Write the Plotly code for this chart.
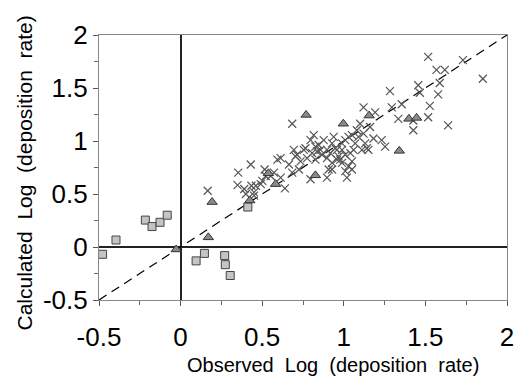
import plotly.graph_objects as go

# Observed (x) vs calculated (y) log deposition rate
cross_x = [0.166, 0.353, 0.349, 0.390, 0.430, 0.434, 0.400, 0.450, 0.501, 0.515, 0.491, 0.552,
           0.593, 0.613, 0.639, 0.684, 0.684, 0.694, 0.714, 0.725, 0.735, 0.755, 0.796, 0.816,
           0.826, 0.796, 0.857, 0.877, 0.897, 0.907, 0.897, 0.928, 0.938, 0.958, 0.968, 0.978,
           0.989, 1.019, 1.009, 1.029, 1.050, 1.040, 1.060, 1.070, 1.090, 1.100, 1.121, 1.131,
           1.141, 1.151, 1.121, 1.161, 1.192, 1.182, 1.232, 1.253, 1.283, 1.294, 1.334, 1.355,
           1.426, 1.426, 1.456, 1.466, 1.517, 1.527, 1.517, 1.568, 1.588, 1.578, 1.619, 1.639,
           1.730, 1.852, 1.111,
           0.704, 0.765, 0.836, 0.846, 0.897, 0.918, 0.948, 0.989, 1.009, 1.029, 1.050, 1.080,
           0.989, 1.009, 0.958, 0.928, 0.867, 0.826, 0.775, 0.664, 0.613, 0.572, 0.522, 0.461,
           0.450, 0.806, 1.050, 0.928]
cross_y = [0.531, 0.701, 0.584, 0.547, 0.778, 0.578, 0.500, 0.516, 0.624, 0.731, 0.593, 0.670,
           0.824, 0.839, 0.553, 1.163, 0.701, 0.916, 0.870, 0.731, 0.808, 0.916, 1.009, 1.055,
           0.824, 0.639, 0.916, 1.009, 0.839, 0.731, 0.655, 0.978, 1.039, 0.916, 0.855, 0.824,
           0.793, 0.655, 0.716, 0.762, 0.808, 0.885, 0.916, 0.978, 1.039, 1.163, 1.070, 0.978,
           0.932, 0.916, 1.317, 1.132, 1.270, 1.024, 1.009, 0.947, 1.470, 1.317, 1.209, 1.347,
           1.101, 1.193, 1.526, 1.455, 1.794, 1.332, 1.224, 1.671, 1.547, 1.440, 1.671, 1.147,
           1.763, 1.587, 0.916,
           0.855, 0.932, 0.901, 0.962, 0.916, 0.885, 0.932, 0.978, 1.009, 1.039, 1.055, 1.101,
           0.916, 0.870, 0.824, 0.793, 0.870, 0.947, 0.839, 0.778, 0.655, 0.701, 0.670, 0.578,
           0.485, 0.885, 0.731, 0.731]

tri_x = [-0.027, 0.170, 0.193, 0.424, 0.538, 0.582, 0.769, 0.826, 0.997, 1.155, 1.340, 1.399, 1.446]
tri_y = [-0.023, 0.091, 0.424, 0.439, 0.695, 0.593, 1.246, 0.676, 1.163, 1.240, 0.907, 1.209, 1.218]

sq_x = [-0.478, -0.396, -0.216, -0.175, -0.126, -0.082, 0.095, 0.146, 0.270, 0.274, 0.304, 0.412]
sq_y = [-0.069, 0.066, 0.254, 0.193, 0.233, 0.300, -0.131, -0.060, -0.081, -0.167, -0.269, 0.377]

line_xy = [-0.5, 2.0]

x_title = "Observed  Log  (deposition  rate)"
y_title = "Calculated  Log  (deposition  rate)"
tick_vals = [-0.5, 0, 0.5, 1, 1.5, 2]
tick_text = ["-0.5", "0", "0.5", "1", "1.5", "2"]

FONT = "Arial, Liberation Sans, sans-serif"

fig = go.Figure()
fig.add_trace(go.Scatter(x=line_xy, y=line_xy, mode="lines",
                         line=dict(color="black", width=1.2, dash="9px,6px"),
                         hoverinfo="skip", showlegend=False))
fig.add_trace(go.Scatter(x=cross_x, y=cross_y, mode="markers", showlegend=False,
                         marker=dict(symbol="x-thin-open", size=8, color="#555555",
                                     line=dict(color="#555555", width=1.2))))
fig.add_trace(go.Scatter(x=sq_x, y=sq_y, mode="markers", showlegend=False,
                         marker=dict(symbol="square", size=8, color="#c4c4c4",
                                     line=dict(color="#444444", width=1))))
fig.add_trace(go.Scatter(x=tri_x, y=tri_y, mode="markers", showlegend=False,
                         marker=dict(symbol="triangle-up", size=9, color="#8a8a8a",
                                     line=dict(color="#333333", width=1))))

axis_common = dict(
    range=[-0.5, 2], tickmode="array", tickvals=tick_vals, ticktext=tick_text,
    ticks="outside", ticklen=5, tickcolor="#555555", tickwidth=1,
    minor=dict(dtick=0.25, tick0=0, ticks="outside", ticklen=4, tickcolor="#666666"),
    showgrid=False, zeroline=True, zerolinecolor="#222222", zerolinewidth=1.5,
    showline=True, linecolor="#888888", linewidth=1.2, mirror=True,
    tickfont=dict(family=FONT, size=26, color="black"),
)

# page body adds an 8 px offset, so the figure is drawn 8 px smaller
fig.update_layout(
    width=518, height=368,
    margin=dict(l=91, r=17, t=22, b=76),
    plot_bgcolor="white", paper_bgcolor="white",
    xaxis=dict(**axis_common, ticklabelstandoff=9),
    yaxis=dict(**axis_common, ticklabelstandoff=0),
    annotations=[
        dict(text=x_title, xref="paper", yref="paper", x=1.0, y=0,
             xanchor="right", yanchor="middle", showarrow=False, xshift=-26, yshift=-65,
             font=dict(family=FONT, size=20, color="black")),
        dict(text=y_title, xref="paper", yref="paper", x=0, y=0.5,
             xanchor="center", yanchor="middle", showarrow=False, textangle=-90,
             xshift=-75, yshift=-6,
             font=dict(family=FONT, size=21, color="black")),
    ],
)

fig.write_html("out.html")
